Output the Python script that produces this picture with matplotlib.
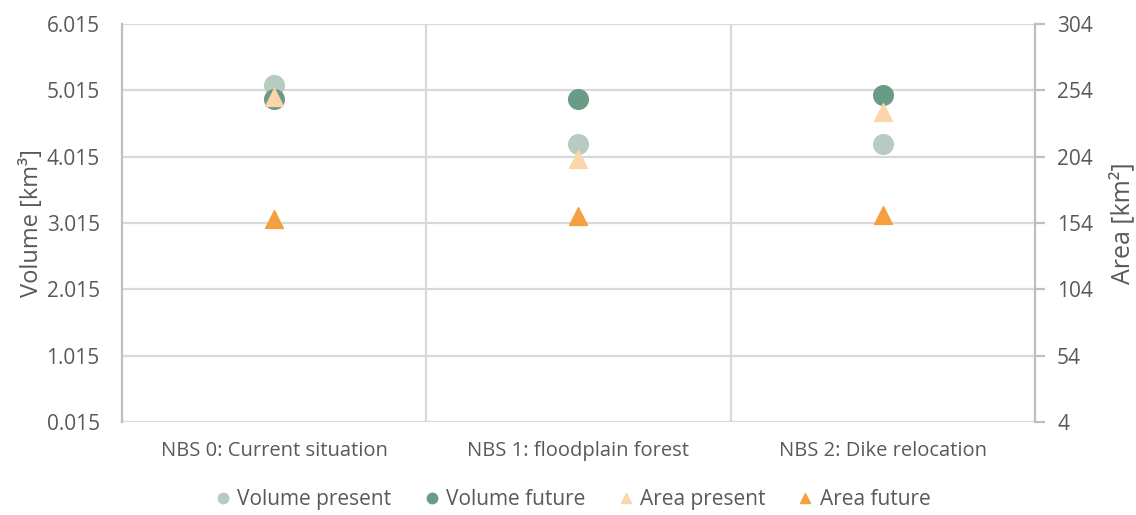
import numpy as np
import matplotlib.pyplot as plt
from matplotlib.lines import Line2D

plt.rcParams['font.family'] = ['Open Sans', 'DejaVu Sans']

categories = ['NBS 0: Current situation', 'NBS 1: floodplain forest', 'NBS 2: Dike relocation']
volume_present = [5.09, 4.21, 4.20]
volume_future = [4.89, 4.89, 4.94]
area_present = [249, 202, 238]
area_future = [157, 159, 160]

vol_ticks = [0.015, 1.015, 2.015, 3.015, 4.015, 5.015, 6.015]
area_ticks = [4, 54, 104, 154, 204, 254, 304]

grey = '#595959'
gridc = '#D9D9D9'
c_vp, c_vf, c_ap, c_af = '#B8CBC1', '#6B9A86', '#FCD5A8', '#F5A040'

fig = plt.figure(figsize=(11.36, 5.15), dpi=100)
ax = fig.add_axes([0.1074, 0.1806, 0.8036, 0.7728])
ax2 = ax.twinx()

x = np.arange(len(categories))
ax.scatter(x, volume_present, s=200, color=c_vp, zorder=3)
ax.scatter(x, volume_future, s=200, color=c_vf, zorder=4)
ax2.scatter(x, area_present, s=165, marker='^', color=c_ap, zorder=3)
ax2.scatter(x, area_future, s=165, marker='^', color=c_af, zorder=4)

ax.set_xlim(-0.5, 2.5)
ax.set_ylim(vol_ticks[0], vol_ticks[-1])
ax2.set_ylim(area_ticks[0], area_ticks[-1])
ax.set_yticks(vol_ticks)
ax.set_yticklabels(['%.3f' % v for v in vol_ticks])
ax2.set_yticks(area_ticks)
ax2.set_yticklabels([str(v) for v in area_ticks])

ax.set_xticks(x)
ax.set_xticklabels(categories)
ax.set_xticks([0.5, 1.5], minor=True)
ax.grid(axis='y', color=gridc, linewidth=1.6, zorder=0)
ax.grid(axis='x', which='minor', color=gridc, linewidth=1.6, zorder=0)
ax.set_axisbelow(True)

for a in (ax, ax2):
    for side in ('top', 'bottom', 'left', 'right'):
        a.spines[side].set_visible(False)
ax2.spines['right'].set_visible(True)
ax2.spines['right'].set_color('#BFBFBF')
ax2.spines['right'].set_linewidth(1.6)
ax.spines['left'].set_visible(True)
ax.spines['left'].set_color('#BFBFBF')
ax.spines['left'].set_linewidth(1.6)

ax.tick_params(axis='y', length=0, pad=16, labelsize=15, labelcolor=grey)
ax.tick_params(axis='x', which='both', length=0, pad=14, labelsize=14.5, labelcolor=grey)
ax2.tick_params(axis='y', length=7, width=1.6, color='#BFBFBF', pad=9, labelsize=15, labelcolor=grey)

ax.set_ylabel('Volume [km³]', fontsize=17, color=grey, labelpad=2)
ax2.set_ylabel('Area [km²]', fontsize=18, color=grey, labelpad=12)

handles = [
    Line2D([], [], ls='none', marker='o', ms=7.5, color=c_vp, label='Volume present'),
    Line2D([], [], ls='none', marker='o', ms=7.5, color=c_vf, label='Volume future'),
    Line2D([], [], ls='none', marker='^', ms=7.5, color=c_ap, label='Area present'),
    Line2D([], [], ls='none', marker='^', ms=7.5, color=c_af, label='Area future'),
]
fig.legend(handles=handles, loc='center', bbox_to_anchor=(0.505, 0.03),
           ncol=4, frameon=False, fontsize=15, labelcolor=grey,
           handlelength=0.6, handletextpad=0.38, columnspacing=1.63)

fig.savefig('out.png', dpi=100)
